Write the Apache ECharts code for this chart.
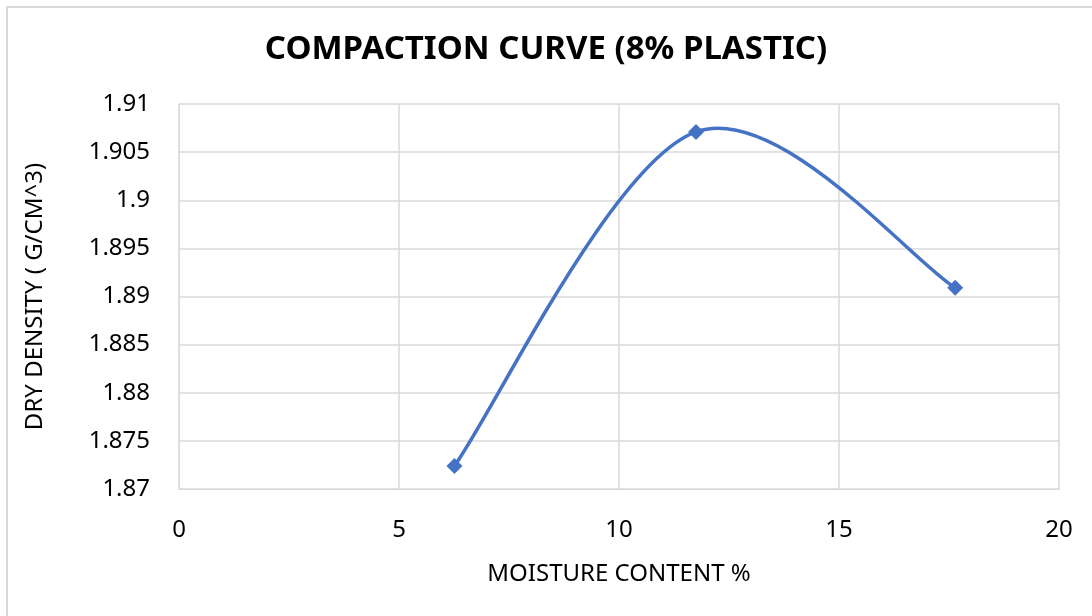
<!DOCTYPE html>
<html>
<head>
<meta charset="utf-8">
<script src="https://cdn.jsdelivr.net/npm/echarts@6/dist/echarts.min.js"></script>
<style>
  html, body { margin: 0; padding: 0; background: #fff; }
  #chart { width: 1092px; height: 616px; }
</style>
</head>
<body>
<div id="chart"></div>
<script>
// Moisture content (%) and dry density (g/cm^3) from the compaction test
const moisture = [6.26, 11.75, 17.64];
const dryDensity = [1.8724, 1.9071, 1.8909];

const xTicks = { min: 0, max: 20, interval: 5 };
const yTicks = { min: 1.87, max: 1.91, interval: 0.005 };

const titleText = 'COMPACTION CURVE (8% PLASTIC)';
const xName = 'MOISTURE CONTENT %';
const yName = 'DRY DENSITY ( G/CM^3)';

const points = moisture.map((m, i) => [m, dryDensity[i]]);

const chart = echarts.init(document.getElementById('chart'), null, { renderer: 'canvas' });
const font = '"Noto Sans", "Liberation Sans", sans-serif';
const blue = '#4472c4';

// Smoothed connecting curve: cubic Bezier segments with Catmull-Rom style
// tangents (1/6 of the neighbouring chord), built on the grid's own coordinates.
function renderCurve(params, api) {
  if (params.dataIndex !== 0) return null;
  const px = points.map(p => api.coord(p));
  const n = px.length;
  const tangent = i => {
    const a = px[Math.max(i - 1, 0)];
    const b = px[Math.min(i + 1, n - 1)];
    return [(b[0] - a[0]) / 6, (b[1] - a[1]) / 6];
  };
  const children = [];
  for (let i = 0; i < n - 1; i++) {
    const p0 = px[i], p1 = px[i + 1];
    const t0 = tangent(i), t1 = tangent(i + 1);
    children.push({
      type: 'bezierCurve',
      shape: {
        x1: p0[0], y1: p0[1],
        cpx1: p0[0] + t0[0], cpy1: p0[1] + t0[1],
        cpx2: p1[0] - t1[0], cpy2: p1[1] - t1[1],
        x2: p1[0], y2: p1[1]
      },
      style: { stroke: blue, lineWidth: 3.5, fill: null, lineCap: 'round' },
      silent: true
    });
  }
  return { type: 'group', children };
}

chart.setOption({
  backgroundColor: '#ffffff',
  animation: false,
  title: {
    text: titleText,
    left: 'center',
    top: 28,
    textStyle: {
      fontFamily: font,
      fontSize: 33,
      fontWeight: 'bold',
      color: '#000000'
    }
  },
  graphic: [{
    type: 'polyline',
    shape: { points: [[7, 640], [7, 7], [1100, 7]] },
    style: { stroke: '#d9d9d9', lineWidth: 2, fill: null },
    silent: true
  }],
  grid: { left: 179, right: 33, top: 104, bottom: 127 },
  xAxis: {
    type: 'value',
    min: xTicks.min,
    max: xTicks.max,
    interval: xTicks.interval,
    name: xName,
    nameLocation: 'middle',
    nameGap: 73,
    nameTextStyle: { fontFamily: font, fontSize: 24, color: '#000' },
    axisLine: { show: true, lineStyle: { color: '#d9d9d9', width: 1 } },
    axisTick: { show: false },
    axisLabel: { fontFamily: font, fontSize: 24, color: '#000', margin: 29 },
    splitLine: { show: true, lineStyle: { color: '#d9d9d9', width: 1.5 } }
  },
  yAxis: {
    type: 'value',
    min: yTicks.min,
    max: yTicks.max,
    interval: yTicks.interval,
    name: yName,
    nameLocation: 'middle',
    nameGap: 132,
    nameRotate: 90,
    nameTextStyle: { fontFamily: font, fontSize: 24, color: '#000' },
    axisLine: { show: true, lineStyle: { color: '#d9d9d9', width: 1 } },
    axisTick: { show: false },
    axisLabel: {
      fontFamily: font, fontSize: 24, color: '#000', margin: 29,
      formatter: v => String(parseFloat(v.toFixed(3)))
    },
    splitLine: { show: true, lineStyle: { color: '#d9d9d9', width: 1.5 } }
  },
  series: [
    {
      type: 'custom',
      renderItem: renderCurve,
      data: points,
      z: 2
    },
    {
      type: 'scatter',
      data: points,
      symbol: 'diamond',
      symbolSize: 16,
      itemStyle: { color: blue, opacity: 1 },
      z: 3
    }
  ]
});
</script>
</body>
</html>
